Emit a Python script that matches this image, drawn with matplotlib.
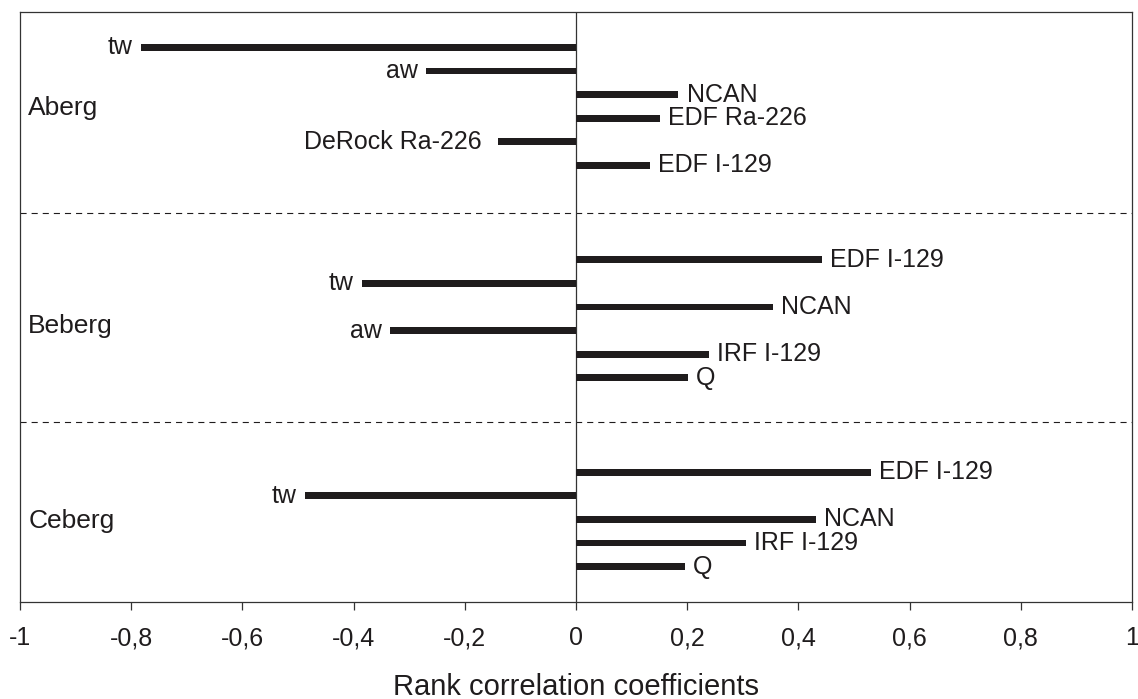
import matplotlib.pyplot as plt

plt.rcParams["font.family"] = ["Liberation Sans", "DejaVu Sans"]

# rank correlation coefficients per site
groups = ["Aberg", "Beberg", "Ceberg"]

aberg_labels = ["tw", "aw", "NCAN", "EDF Ra-226", "DeRock Ra-226", "EDF I-129"]
aberg_values = [-0.782, -0.269, 0.184, 0.151, -0.140, 0.133]

beberg_labels = ["EDF I-129", "tw", "NCAN", "aw", "IRF I-129", "Q"]
beberg_values = [0.442, -0.385, 0.354, -0.335, 0.239, 0.201]

ceberg_labels = ["EDF I-129", "tw", "NCAN", "IRF I-129", "Q"]
ceberg_values = [0.530, -0.487, 0.431, 0.305, 0.196]

x_ticks = [-1, -0.8, -0.6, -0.4, -0.2, 0, 0.2, 0.4, 0.6, 0.8, 1]
x_tick_labels = ["-1", "-0,8", "-0,6", "-0,4", "-0,2", "0", "0,2", "0,4", "0,6", "0,8", "1"]

# layout: first row slot of each group, group label rows, separators
group_start = [1, 10, 19]
group_label_rows = [3.55, 12.8, 21.05]
separators = [8, 16.87]
n_slots = 25

INK = "#1f1c1d"

fig = plt.figure(figsize=(11.38, 6.99), dpi=100)
ax = fig.add_axes([20 / 1138, 97 / 699, 1112 / 1138, 590 / 699])

all_labels = [aberg_labels, beberg_labels, ceberg_labels]
all_values = [aberg_values, beberg_values, ceberg_values]

for start, labels, values in zip(group_start, all_labels, all_values):
    rows = [start + i for i in range(len(values))]
    ax.barh(rows, values, height=0.28, left=0, color=INK, zorder=3)
    for r, v, lab in zip(rows, values, labels):
        if v >= 0:
            ax.annotate(lab, (v, r), xytext=(6, 0), textcoords="offset points",
                        ha="left", va="center", fontsize=18, color=INK)
        else:
            off = -12 if lab.startswith("DeRock") else -6
            ax.annotate(lab, (v, r), xytext=(off, 0), textcoords="offset points",
                        ha="right", va="center", fontsize=18, color=INK)

for name, r in zip(groups, group_label_rows):
    ax.text(-0.985, r, name, ha="left", va="center", fontsize=19, color=INK)

for s in separators:
    ax.axhline(s, color=INK, lw=0.8, linestyle=(0, (5.5, 4.5)), zorder=2)

ax.axvline(0, color="#333333", lw=0.9, zorder=2)

ax.set_xlim(-1, 1)
ax.set_ylim(n_slots - 0.5, -0.5)
ax.set_yticks([])
ax.set_xticks(x_ticks)
ax.set_xticklabels(x_tick_labels, fontsize=18, color=INK)
ax.tick_params(axis="x", direction="out", length=5.5, width=0.9, colors="#333333",
               labelcolor=INK, pad=12)
for sp in ax.spines.values():
    sp.set_color("#333333")
    sp.set_linewidth(0.9)

# axis title sits at the very bottom of the figure
fig.text(576 / 1138, 4 / 699, "Rank correlation coefficients", ha="center",
         va="baseline", fontsize=21, color=INK)

fig.savefig("out.png", dpi=100)
